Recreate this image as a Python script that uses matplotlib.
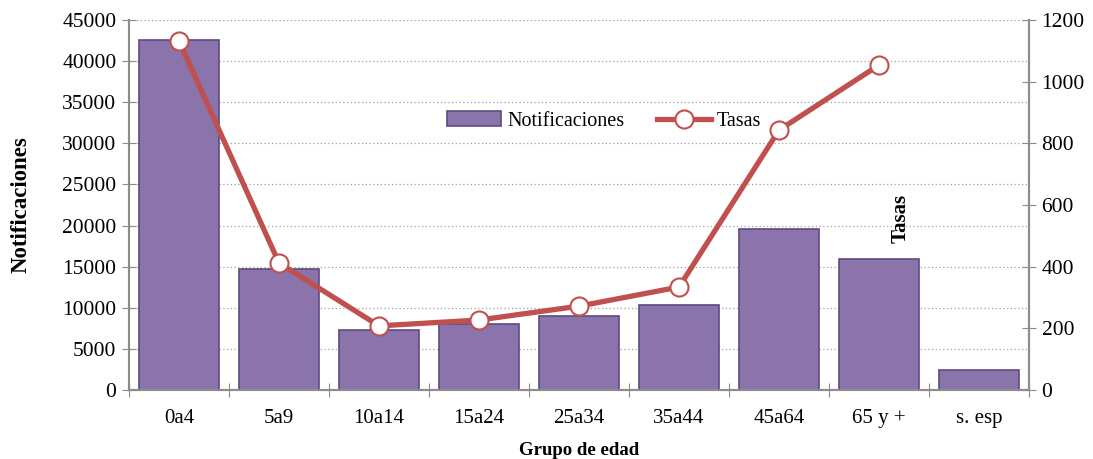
import numpy as np
import matplotlib.pyplot as plt

grupos = ['0a4', '5a9', '10a14', '15a24', '25a34', '35a44', '45a64', '65 y +', 's. esp']
notificaciones = [42600, 14700, 7300, 8000, 9000, 10400, 19600, 15900, 2400]
tasas = [1132, 412, 208, 227, 272, 334, 843, 1054]

plt.rcParams['font.family'] = ['Liberation Serif', 'DejaVu Serif']

fig = plt.figure(figsize=(10.93, 4.59), dpi=100)
ax = fig.add_axes([0.118, 0.1503, 0.8235, 0.8061])
ax2 = ax.twinx()

x = np.arange(len(grupos))
ax.bar(x, notificaciones, width=0.8, color='#8B73AB', edgecolor='#5F4A80',
       linewidth=1.2, label='Notificaciones', zorder=3)
ax2.plot(x[:len(tasas)], tasas, color='#C0504D', lw=3.8, marker='o', ms=13,
         mfc='white', mec='#C0504D', mew=1.5, label='Tasas', zorder=4)

ax.set_xlim(-0.5, len(grupos) - 0.5)
ax.set_ylim(0, 45000)
ax2.set_ylim(0, 1200)
ax.set_yticks(np.arange(0, 45001, 5000))
ax2.set_yticks(np.arange(0, 1201, 200))
ax.yaxis.grid(True, linestyle=(0, (1, 2)), color='#a0a0a0', lw=0.9, zorder=0)
ax.set_axisbelow(True)

ax.set_xticks(np.arange(-0.5, len(grupos)), labels=[])
ax.set_xticks(x, labels=grupos, minor=True)
ax.tick_params(axis='x', which='major', direction='inout', length=10, color='#8c8c8c')
ax.tick_params(axis='x', which='minor', length=0, pad=14, labelsize=15)
ax.tick_params(axis='y', direction='inout', length=10, color='#8c8c8c', labelsize=15.5, pad=4)
ax2.tick_params(axis='y', direction='inout', length=10, color='#8c8c8c', labelsize=15.5, pad=4)

for a in (ax, ax2):
    a.spines['top'].set_visible(False)
    for s in ('left', 'right', 'bottom'):
        a.spines[s].set_color('#8c8c8c')
        a.spines[s].set_linewidth(1.5)

ax.set_ylabel('Notificaciones', fontsize=16.5, fontweight='bold', labelpad=22)
ax.set_xlabel('Grupo de edad', fontsize=13.5, fontweight='bold', labelpad=10)

ax.set_zorder(1)
ax2.set_zorder(2)
ax.patch.set_visible(False)

h1, l1 = ax.get_legend_handles_labels()
h2, l2 = ax2.get_legend_handles_labels()
ax2.legend(h1 + h2, l1 + l2, ncol=2, frameon=False, loc='center',
           bbox_to_anchor=(0.528, 0.727), fontsize=14.5, handlelength=2.7,
           columnspacing=1.6, handletextpad=0.3)

ax2.text(0.857, 0.465, 'Tasas', transform=ax2.transAxes, rotation=90,
         ha='center', va='center', fontsize=15, fontweight='bold')

fig.savefig('out.png', dpi=100)
